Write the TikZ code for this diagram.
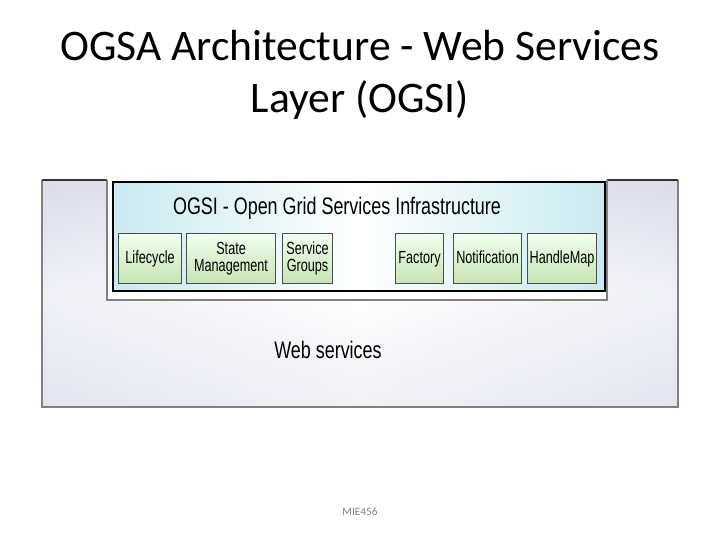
\documentclass[tikz,border=0pt]{standalone}
\usepackage{fontspec}
\setmainfont{Carlito}
\newfontfamily\arial{Liberation Sans}
\definecolor{wsgray}{RGB}{218,220,234}
\definecolor{ogsicyan}{RGB}{200,234,240}
\definecolor{compgreen}{RGB}{200,228,180}
\begin{document}
\begin{tikzpicture}[x=0.025cm,y=-0.025cm,
  comp/.style={draw=black!70,line width=0.8pt,top color=green!6!white,bottom color=compgreen,
    align=center,font=\arial\fontsize{12.5}{12.5}\selectfont,inner sep=0pt,anchor=north west},
  one/.style={text height=9pt,text depth=2.5pt},
  diag/.style={font=\arial\fontsize{17}{17}\selectfont,xscale=0.75}]
\useasboundingbox (0,0) rectangle (720,540);
% title
\node[font=\fontsize{31}{36}\selectfont] (t1) at (360,46) {OGSA Architecture - Web Services};
\node[font=\fontsize{31}{36}\selectfont] (t2) at (360,100) {Layer (OGSI)};
% web services layer
\shade[top color=wsgray,bottom color=wsgray,middle color=white,shading angle=90] (42,180) rectangle (678,407);
\shade[top color=wsgray,bottom color=wsgray!60,middle color=white,opacity=0.6] (42,180) rectangle (678,407);
\draw[gray,line width=1.2pt] (42,180) -- (42,407) -- (678,407) -- (678,180);
\draw[black!80,line width=1pt] (42,180) -- (107,180) (607,180) -- (678,180);
% OGSI panel
\fill[white] (107,180) rectangle (607,300);
\draw[gray,line width=1.5pt] (107,180) -- (107,300) -- (607,300) -- (607,180);
\shade[left color=ogsicyan,right color=ogsicyan,middle color=white,shading angle=90] (113,182) rectangle (605,291);
\draw[black,line width=1pt] (113,182) rectangle (605,291);
\node[diag] (ogsi) at (337,208) {OGSI - Open Grid Services Infrastructure};
\node[comp,one,minimum width=63*0.025cm,minimum height=50*0.025cm] (lc) at (118,233) {\scalebox{0.72}[1]{Lifecycle}};
\node[comp,minimum width=89*0.025cm,minimum height=50*0.025cm] (sm) at (186,233) {\scalebox{0.72}[1]{State}\\\scalebox{0.72}[1]{Management}};
\node[comp,minimum width=50*0.025cm,minimum height=50*0.025cm] (sg) at (282,233) {\scalebox{0.72}[1]{Service}\\\scalebox{0.72}[1]{Groups}};
\node[comp,one,minimum width=48*0.025cm,minimum height=50*0.025cm] (fa) at (395,233) {\scalebox{0.72}[1]{Factory}};
\node[comp,one,minimum width=68*0.025cm,minimum height=50*0.025cm] (no) at (453,233) {\scalebox{0.72}[1]{Notification}};
\node[comp,one,minimum width=69*0.025cm,minimum height=50*0.025cm] (hm) at (527,233) {\scalebox{0.72}[1]{HandleMap}};
\node[diag] (ws) at (328,350) {Web services};
\node[font=\fontsize{8}{8}\selectfont,text=gray] (foot) at (360,512) {MIE456};
\end{tikzpicture}
\end{document}
